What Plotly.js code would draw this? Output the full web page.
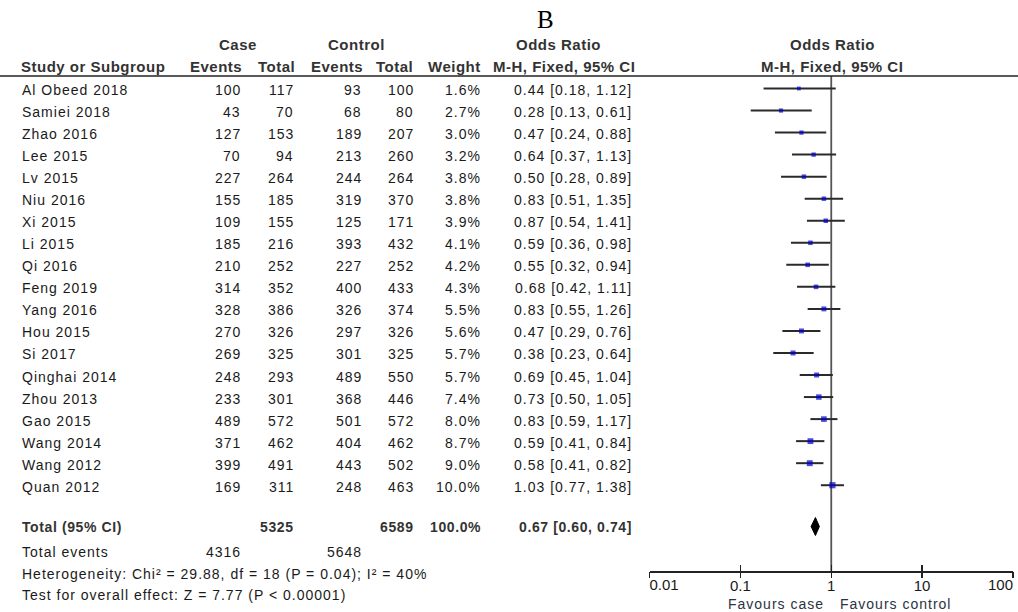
<!DOCTYPE html>
<html>
<head>
<meta charset="utf-8">
<script src="https://cdn.plot.ly/plotly-3.0.1.min.js"></script>
<style>
  html, body { margin: 0; padding: 0; background: #fff; }
  #chart { width: 1018px; height: 612px; }
</style>
</head>
<body>
<div id="chart"></div>
<script>
// Study-level data for the forest plot
const studies = ["Al Obeed 2018", "Samiei 2018", "Zhao 2016", "Lee 2015", "Lv 2015", "Niu 2016",
  "Xi 2015", "Li 2015", "Qi 2016", "Feng 2019", "Yang 2016", "Hou 2015", "Si 2017",
  "Qinghai 2014", "Zhou 2013", "Gao 2015", "Wang 2014", "Wang 2012", "Quan 2012"];
const caseEvents = [100, 43, 127, 70, 227, 155, 109, 185, 210, 314, 328, 270, 269, 248, 233, 489, 371, 399, 169];
const caseTotal  = [117, 70, 153, 94, 264, 185, 155, 216, 252, 352, 386, 326, 325, 293, 301, 572, 462, 491, 311];
const ctrlEvents = [93, 68, 189, 213, 244, 319, 125, 393, 227, 400, 326, 297, 301, 489, 368, 501, 404, 443, 248];
const ctrlTotal  = [100, 80, 207, 260, 264, 370, 171, 432, 252, 433, 374, 326, 325, 550, 446, 572, 462, 502, 463];
const weights    = [1.6, 2.7, 3.0, 3.2, 3.8, 3.8, 3.9, 4.1, 4.2, 4.3, 5.5, 5.6, 5.7, 5.7, 7.4, 8.0, 8.7, 9.0, 10.0];
const oddsRatio  = [0.44, 0.28, 0.47, 0.64, 0.50, 0.83, 0.87, 0.59, 0.55, 0.68, 0.83, 0.47, 0.38, 0.69, 0.73, 0.83, 0.59, 0.58, 1.03];
const ciLow      = [0.18, 0.13, 0.24, 0.37, 0.28, 0.51, 0.54, 0.36, 0.32, 0.42, 0.55, 0.29, 0.23, 0.45, 0.50, 0.59, 0.41, 0.41, 0.77];
const ciHigh     = [1.12, 0.61, 0.88, 1.13, 0.89, 1.35, 1.41, 0.98, 0.94, 1.11, 1.26, 0.76, 0.64, 1.04, 1.05, 1.17, 0.84, 0.82, 1.38];

// Pooled result
const pooledOR = 0.67;
const pooledLow = 0.60;
const pooledHigh = 0.74;
const totalCase = 5325;
const totalCtrl = 6589;
const totalWeight = "100.0%";
const totalEventsCase = 4316;
const totalEventsCtrl = 5648;
const heterogeneityText = "Heterogeneity: Chi² = 29.88, df = 18 (P = 0.04); I² = 40%";
const overallText = "Test for overall effect: Z = 7.77 (P &lt; 0.00001)";

// Axis ticks
const tickVals = [0.01, 0.1, 1, 10, 100];
const tickLabels = ["0.01", "0.1", "1", "10", "100"];

// ---- layout helpers (pixel based; y axis runs top-down in pixels) ----
const W = 1018, H = 612;
const rowTop = 90, rowStep = 22.04;
const rowY = i => rowTop + rowStep * i;
const totalY = 526.5;
const axisY = 571;
const px = x => x / W;

const SANS = "Liberation Sans, Arial, sans-serif";
const BODY = { family: SANS, size: 14, color: "#1a1a1a" };
const BOLD = { family: SANS, size: 15, color: "#333", weight: "bold" };
const BOLDROW = { family: SANS, size: 14, color: "#333", weight: "bold" };
const FAV = { family: SANS, size: 14, color: "#2b3340" };
const TICKFONT = { family: SANS, size: 15, color: "#1a1a1a" };

const annotations = [];
function txt(x, y, text, anchor, font, spacing) {
  annotations.push({
    xref: "paper", yref: "y", x: px(x), y: y,
    text: `<span style="letter-spacing:${spacing}px">${text}</span>`,
    xanchor: anchor, yanchor: "middle", showarrow: false, font: font
  });
}
const body = (x, y, t, a) => txt(x, y, t, a, BODY, 1.0);
const head = (x, y, t, a) => txt(x, y, t, a, BOLD, 0.5);
const fmt2 = v => v.toFixed(2);
const ciText = (o, l, h) => `${fmt2(o)} [${fmt2(l)}, ${fmt2(h)}]`;

// Title
annotations.push({
  xref: "paper", yref: "y", x: px(545), y: 19, text: "B", showarrow: false,
  xanchor: "center", yanchor: "middle",
  font: { family: "Liberation Serif, DejaVu Serif, serif", size: 25, color: "#000" }
});

// Header rows
head(238, 44, "Case", "center");
head(356, 44, "Control", "center");
head(558, 44, "Odds Ratio", "center");
head(832, 44, "Odds Ratio", "center");
head(19, 66, "Study or Subgroup", "left");
head(244, 66, "Events", "right");
head(297, 66, "Total", "right");
head(365, 66, "Events", "right");
head(415, 66, "Total", "right");
head(483, 66, "Weight", "right");
head(637, 66, "M-H, Fixed, 95% CI", "right");
head(832, 66, "M-H, Fixed, 95% CI", "center");

// Study rows
studies.forEach((s, i) => {
  const y = rowY(i);
  body(20, y, s, "left");
  body(243, y, String(caseEvents[i]), "right");
  body(296, y, String(caseTotal[i]), "right");
  body(364, y, String(ctrlEvents[i]), "right");
  body(416, y, String(ctrlTotal[i]), "right");
  body(483, y, weights[i].toFixed(1) + "%", "right");
  body(634, y, ciText(oddsRatio[i], ciLow[i], ciHigh[i]), "right");
});

// Total rows
txt(20, totalY, "Total (95% CI)", "left", BOLDROW, 0.6);
txt(296, totalY, String(totalCase), "right", BOLDROW, 0.6);
txt(416, totalY, String(totalCtrl), "right", BOLDROW, 0.6);
txt(483, totalY, totalWeight, "right", BOLDROW, 0.6);
txt(634, totalY, ciText(pooledOR, pooledLow, pooledHigh), "right", BOLDROW, 0.6);

body(20, 551.5, "Total events", "left");
body(243, 551.5, String(totalEventsCase), "right");
body(364, 551.5, String(totalEventsCtrl), "right");
body(20, 573.5, heterogeneityText, "left");
body(20, 595, overallText, "left");

// Favours labels under the axis
txt(826, 604, "Favours case", "right", FAV, 1.0);
txt(838, 604, "Favours control", "left", FAV, 1.0);

// ---- traces ----
const studyTrace = {
  type: "scatter", mode: "markers",
  x: oddsRatio, y: studies.map((_, i) => rowY(i) - 1.5),
  marker: { symbol: "square", color: "#0000cc", size: weights.map(w => 3.4 + 0.28 * w), line: { width: 0 } },
  error_x: {
    type: "data", symmetric: false,
    array: oddsRatio.map((o, i) => ciHigh[i] - o),
    arrayminus: oddsRatio.map((o, i) => o - ciLow[i]),
    width: 0, thickness: 2, color: "#2a2a2a"
  },
  hoverinfo: "skip", showlegend: false
};

const diamondHalf = 9;
const diamondTrace = {
  type: "scatter", mode: "lines",
  x: [pooledLow, pooledOR, pooledHigh, pooledOR, pooledLow],
  y: [totalY, totalY - diamondHalf, totalY, totalY + diamondHalf, totalY],
  fill: "toself", fillcolor: "#000", line: { color: "#000", width: 1 },
  hoverinfo: "skip", showlegend: false
};

// Empty traces binding the overlay axes (end labels and lower tick halves)
const emptyOn = ax => ({ type: "scatter", mode: "markers", x: [], y: [], xaxis: ax, yaxis: "y", showlegend: false, hoverinfo: "skip" });

const axisDomain = [px(649.5), px(1013)];
const axisPos = 1 - axisY / H;
const baseAxis = {
  type: "log", range: [-2, 2], domain: axisDomain,
  anchor: "free", position: axisPos, tickmode: "array",
  showgrid: false, zeroline: false, fixedrange: true, tickfont: TICKFONT
};
const firstLast = (keep) => tickLabels.map((t, i) => keep(i) ? t : "");
const last = tickLabels.length - 1;

const layout = {
  width: W, height: H,
  margin: { l: 0, r: 0, t: 0, b: 0 },
  paper_bgcolor: "#fff", plot_bgcolor: "rgba(0,0,0,0)",
  showlegend: false,
  // main axis: line, upper tick halves, inner labels
  xaxis: Object.assign({}, baseAxis, {
    showline: true, linecolor: "#222", linewidth: 1.5,
    ticks: "inside", ticklen: 6, tickwidth: 1.5, tickcolor: "#222",
    tickvals: tickVals, ticktext: firstLast(i => i > 0 && i < last)
  }),
  // leftmost label, anchored to the right of its tick
  xaxis2: Object.assign({}, baseAxis, {
    overlaying: "x", showline: false, ticks: "",
    tickvals: tickVals, ticktext: firstLast(i => i === 0),
    ticklabelposition: "outside right", ticklabelstandoff: 3
  }),
  // rightmost label, anchored to the left of its tick
  xaxis3: Object.assign({}, baseAxis, {
    overlaying: "x", showline: false, ticks: "",
    tickvals: tickVals, ticktext: firstLast(i => i === last),
    ticklabelposition: "outside left", ticklabelstandoff: 3
  }),
  // lower tick halves
  xaxis4: Object.assign({}, baseAxis, {
    overlaying: "x", showline: false,
    ticks: "outside", ticklen: 6, tickwidth: 1.5, tickcolor: "#222",
    tickvals: tickVals, showticklabels: false
  }),
  yaxis: {
    range: [H, 0], domain: [0, 1], visible: false, fixedrange: true
  },
  shapes: [
    { type: "line", xref: "paper", yref: "y", x0: 0, x1: 1, y0: 76, y1: 76,
      line: { color: "#222", width: 1.5 } },
    { type: "line", xref: "x", yref: "y", x0: 1, x1: 1, y0: 76, y1: axisY,
      line: { color: "#555", width: 1.8 }, layer: "below" }
  ],
  annotations: annotations
};

Plotly.newPlot("chart",
  [studyTrace, diamondTrace, emptyOn("x2"), emptyOn("x3"), emptyOn("x4")],
  layout, { staticPlot: true, displayModeBar: false });
</script>
</body>
</html>
